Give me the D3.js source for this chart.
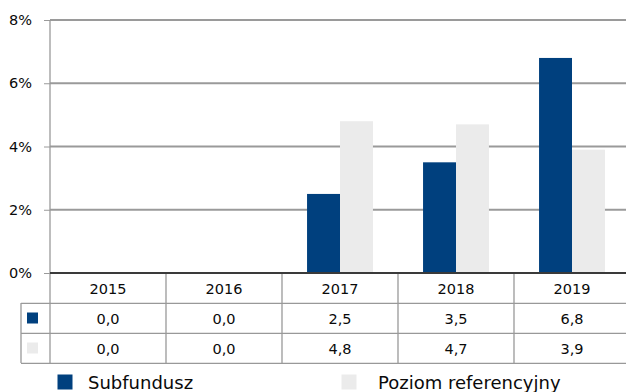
<!DOCTYPE html>
<html>
<head>
<meta charset="utf-8">
<script src="https://cdn.jsdelivr.net/npm/d3@7/dist/d3.min.js"></script>
<style>
  html, body { margin: 0; padding: 0; background: #fff; }
  svg { display: block; font-family: "DejaVu Sans", Verdana, sans-serif; }
</style>
</head>
<body>
<svg id="chart" width="626" height="392"></svg>
<script>
// Yearly returns (%) of the sub-fund and its benchmark
const years = ["2015", "2016", "2017", "2018", "2019"];
const seriesNames = ["Subfundusz", "Poziom referencyjny"];
const subfundusz = [0.0, 0.0, 2.5, 3.5, 6.8];
const poziomReferencyjny = [0.0, 0.0, 4.8, 4.7, 3.9];
const yTicks = [0, 2, 4, 6, 8];
const colors = ["#00407e", "#ebebeb"];

const seriesValues = [subfundusz, poziomReferencyjny];
const fmt = v => v.toFixed(1).replace(".", ",");
const textColor = "#0a0a0a";
const labelSize = 14.5;

const svg = d3.select("#chart");

// plot area
const plotLeft = 50, plotRight = 630, plotTop = 20, plotBottom = 273;
const rowH = 30, tableLeft = 21;

const x0 = d3.scaleBand().domain(years).range([plotLeft, plotRight]).padding(0);
const x1 = d3.scaleBand().domain(seriesNames).range([0, x0.bandwidth()])
  .paddingInner(0).paddingOuter(0.76);
const y = d3.scaleLinear().domain([0, 8]).range([plotBottom, plotTop]);

// horizontal gridlines
svg.append("g")
  .selectAll("line")
  .data(yTicks.filter(t => t > 0))
  .join("line")
  .attr("x1", plotLeft).attr("x2", plotRight)
  .attr("y1", d => y(d)).attr("y2", d => y(d))
  .attr("stroke", "#9a9a9a").attr("stroke-width", 2);

// y axis
const yAxis = d3.axisLeft(y).tickValues(yTicks).tickFormat(d => d + "%")
  .tickSize(6).tickPadding(12);
const gy = svg.append("g").attr("transform", `translate(${plotLeft},0)`).call(yAxis);
gy.select(".domain").remove();
gy.selectAll(".tick line").attr("stroke", "#9a9a9a");
gy.selectAll(".tick text").attr("font-size", labelSize).attr("fill", textColor)
  .attr("font-family", "DejaVu Sans, sans-serif");

// bars
const groups = svg.append("g").selectAll("g")
  .data(years)
  .join("g")
  .attr("transform", d => `translate(${x0(d)},0)`);

groups.selectAll("rect")
  .data((d, i) => seriesNames.map((s, j) => ({ s, v: seriesValues[j][i], c: colors[j] })))
  .join("rect")
  .attr("x", d => x1(d.s))
  .attr("width", x1.bandwidth())
  .attr("y", d => y(d.v))
  .attr("height", d => y(0) - y(d.v))
  .attr("fill", d => d.c);

// vertical axis line across plot and table
svg.append("line")
  .attr("x1", plotLeft).attr("x2", plotLeft)
  .attr("y1", plotTop).attr("y2", plotBottom + rowH * 3)
  .attr("stroke", "#9a9a9a").attr("stroke-width", 1.3);

// data table
const table = svg.append("g");
const lineColor = "#999";

// column separators
table.selectAll("line.col")
  .data(years.slice(1))
  .join("line")
  .attr("class", "col")
  .attr("x1", d => x0(d)).attr("x2", d => x0(d))
  .attr("y1", plotBottom).attr("y2", plotBottom + rowH * 3)
  .attr("stroke", lineColor).attr("stroke-width", 1.3);

// row separators
[1, 2, 3].forEach(r => {
  table.append("line")
    .attr("x1", tableLeft).attr("x2", plotRight)
    .attr("y1", plotBottom + rowH * r + 0.3).attr("y2", plotBottom + rowH * r + 0.3)
    .attr("stroke", lineColor).attr("stroke-width", 1.3);
});
table.append("line")
  .attr("x1", tableLeft).attr("x2", tableLeft)
  .attr("y1", plotBottom + rowH).attr("y2", plotBottom + rowH * 3)
  .attr("stroke", lineColor).attr("stroke-width", 1.3);

// header: years
table.selectAll("text.year")
  .data(years)
  .join("text")
  .attr("class", "year")
  .attr("x", d => x0(d) + x0.bandwidth() / 2)
  .attr("y", plotBottom + rowH / 2 + 5.5)
  .attr("text-anchor", "middle")
  .attr("font-size", labelSize).attr("fill", textColor)
  .text(d => d);

// value rows with series keys
seriesValues.forEach((vals, j) => {
  const cy = plotBottom + rowH * (j + 1) + rowH / 2;
  table.append("rect")
    .attr("x", 27).attr("y", cy - 5.5)
    .attr("width", 11).attr("height", 11)
    .attr("fill", colors[j]);
  table.selectAll(null)
    .data(vals)
    .join("text")
    .attr("x", (d, i) => x0(years[i]) + x0.bandwidth() / 2)
    .attr("y", cy + 5.5)
    .attr("text-anchor", "middle")
    .attr("font-size", labelSize).attr("fill", textColor)
    .text(d => fmt(d));
});

// baseline at 0%
svg.append("line")
  .attr("x1", plotLeft).attr("x2", plotRight)
  .attr("y1", y(0)).attr("y2", y(0))
  .attr("stroke", "#3a3a3a").attr("stroke-width", 2);

// legend
const legendKeyX = [57.5, 341.5];
const legendTextX = [88, 378];
const legend = svg.append("g").selectAll("g")
  .data(seriesNames)
  .join("g");
legend.append("rect")
  .attr("x", (d, i) => legendKeyX[i]).attr("y", 374.5)
  .attr("width", 15).attr("height", 15)
  .attr("fill", (d, i) => colors[i]);
legend.append("text")
  .attr("x", (d, i) => legendTextX[i]).attr("y", 388.5)
  .attr("font-size", 18).attr("fill", textColor)
  .text(d => d);
</script>
</body>
</html>
